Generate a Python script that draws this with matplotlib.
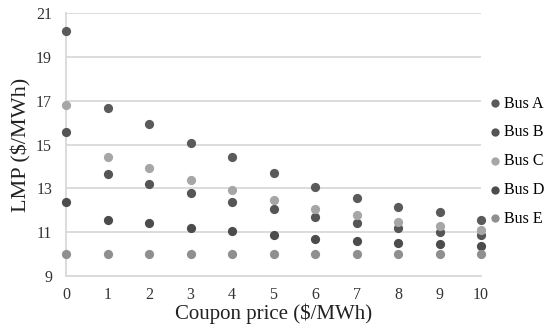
import numpy as np
import matplotlib.pyplot as plt

# Данные
coupon = [0, 1, 2, 3, 4, 5, 6, 7, 8, 9, 10]
bus_a = [20.2, 16.65, 15.92, 15.08, 14.42, 13.68, 13.07, 12.54, 12.16, 11.9, 11.55]
bus_b = [15.57, 13.65, 13.22, 12.77, 12.38, 12.04, 11.7, 11.42, 11.17, 10.99, 10.86]
bus_c = [16.82, 14.44, 13.95, 13.37, 12.92, 12.49, 12.08, 11.78, 11.47, 11.27, 11.09]
bus_d = [12.36, 11.56, 11.42, 11.17, 11.05, 10.85, 10.7, 10.6, 10.51, 10.44, 10.38]
bus_e = [10.0, 10.0, 10.0, 10.0, 10.0, 10.0, 10.0, 10.0, 10.0, 10.0, 10.0]
names = ['Bus A', 'Bus B', 'Bus C', 'Bus D', 'Bus E']
colors = ['#5a5a5a', '#555555', '#a6a6a6', '#4c4c4c', '#8f8f8f']
yticks = [9, 11, 13, 15, 17, 19, 21]

plt.rcParams['font.family'] = ['Liberation Serif', 'DejaVu Serif']

fig = plt.figure(figsize=(5.47, 3.29), dpi=100)
ax = fig.add_axes([0.1207, 0.161, 0.7587, 0.7995])

for series, name, c in zip([bus_a, bus_b, bus_c, bus_d, bus_e], names, colors):
    ax.scatter(coupon, series, s=44, color=c, label=name, clip_on=False, zorder=3, linewidths=0)

ax.set_xlim(0, 10)
ax.set_ylim(9, 21)
ax.set_yticks(yticks)
ax.set_xticks(coupon)
ax.grid(axis='y', color='#d9d9d9', linewidth=1.3)
ax.set_axisbelow(True)
for side in ['top', 'right']:
    ax.spines[side].set_visible(False)
ax.spines['left'].set_color('#d9d9d9')
ax.spines['left'].set_linewidth(1.3)
ax.spines['bottom'].set_color('#d9d9d9')
ax.spines['bottom'].set_linewidth(1.3)
ax.tick_params(axis='x', length=0, labelsize=11.5, colors='#333333', pad=8)
ax.tick_params(axis='y', length=0, labelsize=11.5, colors='#333333', pad=10)

ax.set_xlabel('Coupon price ($/MWh)', fontsize=15, color='#222222', labelpad=0)
ax.set_ylabel('LMP ($/MWh)', fontsize=16, color='#222222', labelpad=3)

ax.legend(loc='center left', bbox_to_anchor=(1.013, 0.437), frameon=False,
          fontsize=11.5, handlelength=0.7, handletextpad=0.2, labelspacing=0.8,
          markerscale=0.9, borderaxespad=0.0, borderpad=0.2)

fig.savefig('out.png', dpi=100)
